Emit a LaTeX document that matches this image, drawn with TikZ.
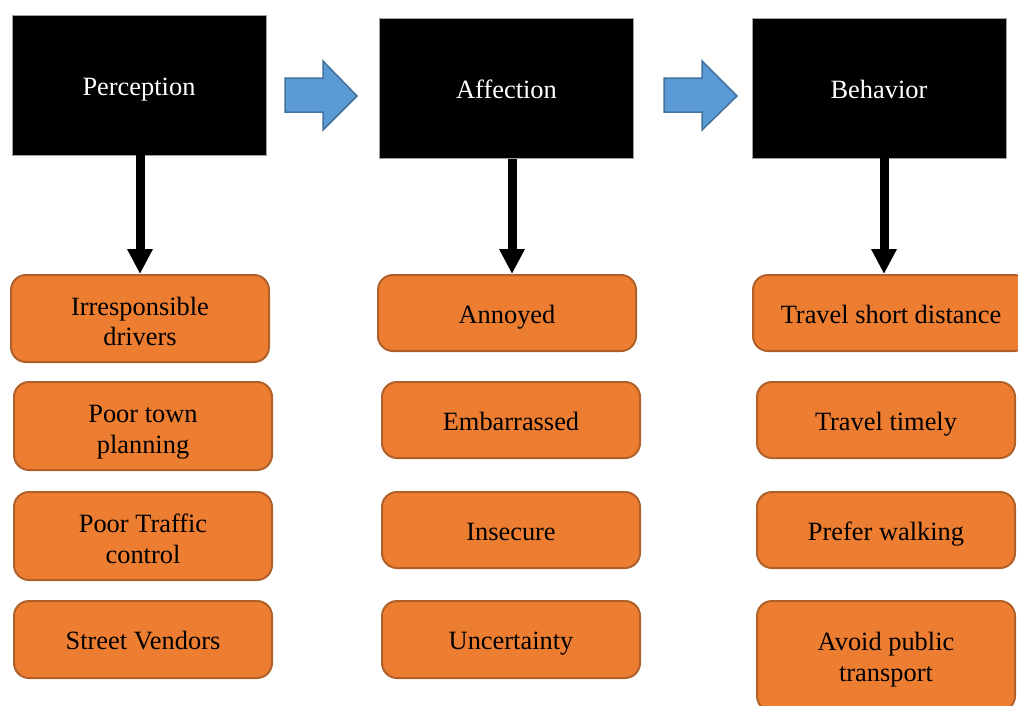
\documentclass[tikz,border=0pt]{standalone}
\usepackage{fontspec}
\setmainfont{Liberation Serif}
\usetikzlibrary{arrows.meta}
\definecolor{orfill}{HTML}{ED7D31}
\definecolor{orline}{HTML}{B0612A}
\definecolor{blfill}{HTML}{5B9BD5}
\definecolor{blline}{HTML}{41719C}
\definecolor{edgegray}{HTML}{A0A0A0}
\tikzset{
  head/.style={fill=black, draw=edgegray, line width=0.8pt, inner sep=0pt,
    text=white, font=\fontsize{26.4}{30.4}\selectfont,
    text height=20pt, text depth=0pt,
    minimum width=254pt, minimum height=140pt},
  item/.style={fill=orfill, draw=orline, line width=2pt, rounded corners=15pt,
    inner sep=0pt, align=center, text=black, font=\fontsize{26.4}{30.4}\selectfont,
    text height=20pt, text depth=0pt,
    minimum width=258pt, minimum height=76pt},
  twoline/.style={text height=50.4pt, text depth=0pt},
  twolinelow/.style={text height=54.4pt, text depth=0pt},
  downarrow/.style={line width=9pt, -{Triangle[width=24pt,length=25pt]}},
  blockarrow/.style={fill=blfill, draw=blline, line width=1.5pt, line join=miter}
}
\begin{document}
\begin{tikzpicture}[x=1pt,y=-1pt]
\useasboundingbox (0,0) rectangle (1018,705);
\clip (0,0) rectangle (1018,705);
% header boxes
\node[head] (perc) at (139,85) {Perception};
\node[head] (aff) at (506.5,88.5) {Affection};
\node[head] (beh) at (879,88) {Behavior};
% block arrows
\draw[blockarrow] (285,78) -- (323,78) -- (323,61) -- (357,96) -- (323,130) -- (323,112) -- (285,112) -- cycle;
\draw[blockarrow] (664,78) -- (702,78) -- (702,61) -- (737,96) -- (702,130) -- (702,112) -- (664,112) -- cycle;
% column 1
\node[item, twolinelow, minimum height=87pt] (irr) at (140,318.5) {Irresponsible\\drivers};
\node[item, twolinelow, minimum height=88pt] (town) at (143,426) {Poor town\\planning};
\node[item, twolinelow, minimum height=88pt] (traffic) at (143,536) {Poor Traffic\\control};
\node[item, minimum height=77pt] (vend) at (143,639.5) {Street Vendors};
% column 2
\node[item] (ann) at (507,313) {Annoyed};
\node[item] (emb) at (511,420) {Embarrassed};
\node[item] (ins) at (511,530) {Insecure};
\node[item, minimum height=77pt] (unc) at (511,639.5) {Uncertainty};
% column 3
\node[item, minimum width=276pt] (tsd) at (891,313) {Travel short distance};
\node[item] (tim) at (886,420) {Travel timely};
\node[item] (walk) at (886,530) {Prefer walking};
\node[item, twoline, minimum height=110pt] (avoid) at (886,656) {Avoid public\\transport};
% down arrows
\draw[downarrow] ([xshift=1pt]perc.south) -- ([xshift=1pt]perc.south |- irr.north);
\draw[downarrow] ([xshift=5.5pt]aff.south) -- ([xshift=5.5pt]aff.south |- ann.north);
\draw[downarrow] ([xshift=5pt]beh.south) -- ([xshift=5pt]beh.south |- tsd.north);
\end{tikzpicture}
\end{document}
